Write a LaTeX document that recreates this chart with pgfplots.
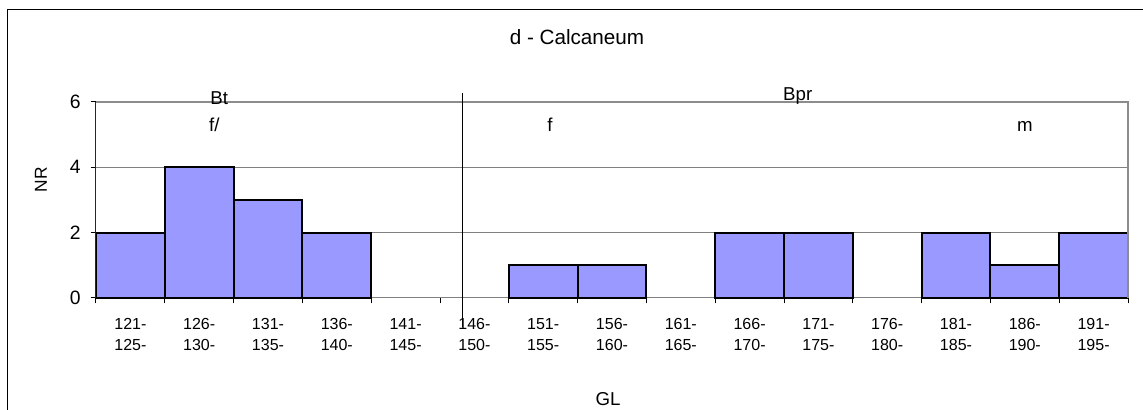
\documentclass[border=0pt]{standalone}
\usepackage{fontspec}
\setmainfont{Liberation Sans}
\usepackage{pgfplots}
\pgfplotsset{compat=1.18}
\definecolor{barfill}{HTML}{9999FF}
\definecolor{gridgray}{HTML}{808080}
\definecolor{bordergray}{HTML}{8C8C8C}
\begin{document}
\begin{tikzpicture}
\useasboundingbox (0,0) rectangle (857.25pt,307.5pt);
\draw[black, line width=0.75pt] (5.25pt,-2pt) -- (5.25pt,300pt) -- (860pt,300pt);
\node[font=\fontsize{15.5}{18}\selectfont] at (432.75pt,279.75pt) {d - Calcaneum};
\node[font=\fontsize{14}{17}\selectfont] at (456pt,8pt) {GL};
\node[font=\fontsize{13}{16}\selectfont, rotate=90] at (30.75pt,172.5pt) {NR};
\begin{axis}[
  at={(72pt,84pt)}, anchor=south west,
  scale only axis, width=774pt, height=147pt,
  xmin=-0.5, xmax=14.5, ymin=0, ymax=6,
  clip=false,
  ytick={0,2,4,6},
  xtick={0,...,14},
  xticklabels={{121-\\125-},{126-\\130-},{131-\\135-},{136-\\140-},{141-\\145-},{146-\\150-},{151-\\155-},{156-\\160-},{161-\\165-},{166-\\170-},{171-\\175-},{176-\\180-},{181-\\185-},{186-\\190-},{191-\\195-}},
  minor xtick={-0.5,0.5,...,14.5},
  axis line style={draw=none},
  ymajorgrids, grid style={gridgray, line width=0.75pt},
  tick align=outside, tick pos=left,
  major tick length=4pt, minor tick length=4pt,
  major x tick style={draw=none},
  minor x tick style={black, line width=0.75pt},
  y tick style={black, line width=0.75pt},
  /pgf/number format/assume math mode=true,
  xticklabel style={font=\fontsize{12}{16}\selectfont, align=center, yshift=-7.5pt},
  yticklabel style={font=\fontsize{14.5}{17}\selectfont, xshift=-4pt},
  ybar, bar width=1,
]
\addplot[fill=barfill, draw=black, line width=1.5pt] coordinates {
  (0,2) (1,4) (2,3) (3,2) (6,1) (7,1) (9,2) (10,2) (12,2) (13,1) (14,2)
};
\draw[bordergray, line width=1.5pt] (rel axis cs:0,1) -- (rel axis cs:1,1) -- (rel axis cs:1,0);
\draw[black!85, line width=0.75pt] (rel axis cs:0,0) -- (rel axis cs:0,1);
\draw[black, line width=0.75pt] (axis cs:4.83,-0.89) -- (axis cs:4.83,6.27);
\node[font=\fontsize{14}{17}\selectfont] at (axis cs:1.29,6.12) {Bt};
\node[font=\fontsize{14}{17}\selectfont] at (axis cs:1.22,5.30) {f/};
\node[font=\fontsize{14}{17}\selectfont] at (axis cs:6.10,5.30) {f};
\node[font=\fontsize{14}{17}\selectfont] at (axis cs:9.70,6.18) {Bpr};
\node[font=\fontsize{14}{17}\selectfont] at (axis cs:13.0,5.26) {m};
\end{axis}
\end{tikzpicture}
\end{document}
